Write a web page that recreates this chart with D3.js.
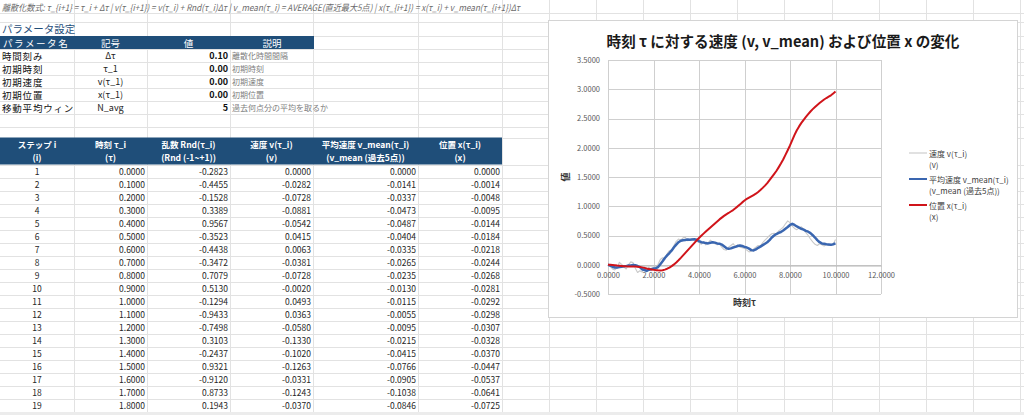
<!DOCTYPE html>
<html>
<head>
<meta charset="utf-8">
<title>時刻 τ に対する速度および位置の変化</title>
<script src="https://d3js.org/d3.v7.min.js"></script>
<style>
  body { margin: 0; background: #fff; }
  svg text { font-family: "Noto Sans CJK JP", "Noto Sans", sans-serif; }
</style>
</head>
<body>
<svg id="sheet" width="1024" height="415"></svg>
<script>
// ---- data ----
const formulaText = "離散化数式: τ_{i+1} = τ_i + Δτ | v(τ_{i+1}) = v(τ_i) + Rnd(τ_i)Δτ | v_mean(τ_i) = AVERAGE(直近最大5点) | x(τ_{i+1}) = x(τ_i) + v_mean(τ_{i+1})Δτ";

const paramHeaders = ["パラメータ名", "記号", "値", "説明"];
const paramNames = ["時間刻み", "初期時刻", "初期速度", "初期位置", "移動平均ウィン"];
const paramSymbols = ["Δτ", "τ_1", "v(τ_1)", "x(τ_1)", "N_avg"];
const paramValues = [0.10, 0.00, 0.00, 0.00, 5];
const paramDescs = ["離散化時間間隔", "初期時刻", "初期速度", "初期位置", "過去何点分の平均を取るか"];

const tableHeaders = [
  ["ステップ i", "(i)"],
  ["時刻 τ_i", "(τ)"],
  ["乱数 Rnd(τ_i)", "(Rnd (-1~+1))"],
  ["速度 v(τ_i)", "(v)"],
  ["平均速度 v_mean(τ_i)", "(v_mean (過去5点))"],
  ["位置 x(τ_i)", "(x)"]
];

const steps = [1, 2, 3, 4, 5, 6, 7, 8, 9, 10, 11, 12, 13, 14, 15, 16, 17, 18, 19];
const rnd = [-0.2823, -0.4455, -0.1528, 0.3389, 0.9567, -0.3523, -0.4438, -0.3472, 0.7079, 0.5130,
  -0.1294, -0.9433, -0.7498, 0.3103, -0.2437, 0.9321, -0.9120, 0.8733, 0.1943];

const tau = [0.0, 0.1, 0.2, 0.3, 0.4, 0.5, 0.6, 0.7, 0.8, 0.9,
  1.0, 1.1, 1.2, 1.3, 1.4, 1.5, 1.6, 1.7, 1.8, 1.9,
  2.0, 2.1, 2.2, 2.3, 2.4, 2.5, 2.6, 2.7, 2.8, 2.9,
  3.0, 3.1, 3.2, 3.3, 3.4, 3.5, 3.6, 3.7, 3.8, 3.9,
  4.0, 4.1, 4.2, 4.3, 4.4, 4.5, 4.6, 4.7, 4.8, 4.9,
  5.0, 5.1, 5.2, 5.3, 5.4, 5.5, 5.6, 5.7, 5.8, 5.9,
  6.0, 6.1, 6.2, 6.3, 6.4, 6.5, 6.6, 6.7, 6.8, 6.9,
  7.0, 7.1, 7.2, 7.3, 7.4, 7.5, 7.6, 7.7, 7.8, 7.9,
  8.0, 8.1, 8.2, 8.3, 8.4, 8.5, 8.6, 8.7, 8.8, 8.9,
  9.0, 9.1, 9.2, 9.3, 9.4, 9.5, 9.6, 9.7, 9.8, 9.9, 10.0];

const vel = [0.0000, -0.0282, -0.0728, -0.0881, -0.0542, 0.0415, 0.0063, -0.0381, -0.0728, -0.0020,
  0.0493, 0.0363, -0.0580, -0.1330, -0.1020, -0.1263, -0.0331, -0.1243, -0.0370, -0.100,
  -0.060, -0.080, 0.010, 0.090, 0.120, 0.100, 0.190, 0.240, 0.230, 0.330,
  0.400, 0.440, 0.420, 0.460, 0.470, 0.410, 0.420, 0.450, 0.440, 0.400,
  0.380, 0.350, 0.390, 0.340, 0.380, 0.420, 0.390, 0.360, 0.340, 0.360,
  0.300, 0.260, 0.250, 0.300, 0.330, 0.360, 0.310, 0.340, 0.300, 0.290,
  0.280, 0.250, 0.220, 0.230, 0.270, 0.300, 0.330, 0.320, 0.380, 0.420,
  0.460, 0.500, 0.530, 0.540, 0.520, 0.580, 0.610, 0.640, 0.700, 0.750,
  0.720, 0.660, 0.620, 0.600, 0.630, 0.650, 0.600, 0.550, 0.500, 0.440,
  0.390, 0.350, 0.330, 0.360, 0.340, 0.320, 0.350, 0.330, 0.340, 0.350, 0.430];

const vMean = [0.0000, -0.0141, -0.0337, -0.0473, -0.0487, -0.0404, -0.0335, -0.0265, -0.0235, -0.0130,
  -0.0115, -0.0055, -0.0095, -0.0215, -0.0415, -0.0766, -0.0905, -0.1038, -0.0846, -0.075,
  -0.065, -0.058, -0.040, 0.010, 0.060, 0.115, 0.160, 0.200, 0.245, 0.300,
  0.345, 0.385, 0.410, 0.420, 0.425, 0.430, 0.428, 0.432, 0.435, 0.428,
  0.405, 0.385, 0.380, 0.370, 0.365, 0.375, 0.385, 0.378, 0.365, 0.360,
  0.345, 0.315, 0.285, 0.272, 0.280, 0.295, 0.305, 0.320, 0.330, 0.320,
  0.305, 0.295, 0.275, 0.250, 0.245, 0.262, 0.290, 0.310, 0.335, 0.360,
  0.385, 0.420, 0.465, 0.500, 0.525, 0.545, 0.560, 0.585, 0.615, 0.645,
  0.680, 0.700, 0.680, 0.655, 0.635, 0.615, 0.600, 0.580, 0.565, 0.540,
  0.505, 0.465, 0.420, 0.385, 0.365, 0.358, 0.350, 0.345, 0.340, 0.350, 0.365];

const pos = [0.0000, -0.0014, -0.0048, -0.0095, -0.0144, -0.0184, -0.0218, -0.0244, -0.0268, -0.0281,
  -0.0292, -0.0298, -0.0307, -0.0328, -0.0370, -0.0447, -0.0537, -0.0641, -0.0725, -0.080,
  -0.087, -0.092, -0.096, -0.097, -0.093, -0.083, -0.068, -0.048, -0.024, 0.006,
  0.040, 0.078, 0.118, 0.160, 0.203, 0.246, 0.288, 0.332, 0.375, 0.418,
  0.458, 0.495, 0.532, 0.568, 0.603, 0.638, 0.672, 0.706, 0.740, 0.775,
  0.805, 0.835, 0.862, 0.885, 0.910, 0.935, 0.966, 0.998, 1.032, 1.066,
  1.098, 1.125, 1.148, 1.170, 1.192, 1.215, 1.245, 1.278, 1.314, 1.352,
  1.395, 1.445, 1.497, 1.550, 1.603, 1.665, 1.730, 1.800, 1.878, 1.958,
  2.040, 2.130, 2.220, 2.298, 2.365, 2.425, 2.478, 2.528, 2.575, 2.620,
  2.660, 2.697, 2.732, 2.764, 2.795, 2.825, 2.850, 2.873, 2.897, 2.928, 2.960];

const chartTitle = "時刻 τ に対する速度 (v, v_mean) および位置 x の変化";
const xTicks = [0, 2, 4, 6, 8, 10, 12];
const yTicks = [-0.5, 0, 0.5, 1.0, 1.5, 2.0, 2.5, 3.0, 3.5];
const xTitle = "時刻τ";
const yTitle = "値";
const legendLabels = [
  ["速度 v(τ_i)", "(v)"],
  ["平均速度 v_mean(τ_i)", "(v_mean (過去5点))"],
  ["位置 x(τ_i)", "(x)"]
];

// ---- layout ----
const svg = d3.select("#sheet");
const headBlue = "#1f4e79";
const fmt4 = d => d.toFixed(4);
const crisp = v => Math.round(v) + 0.5;

// sheet gridlines
const colLines = [74, 147, 230, 313, 418, 502, 549, 596, 643, 690, 737, 784, 832, 879, 926, 973, 1020];
const rowLines = [12.5, 21.5, 36, 49, 62, 75, 88, 101, 114, 126.5, 137.5]
  .concat(d3.range(20).map(k => 164.5 + 13 * k));

const grid = svg.append("g").attr("stroke", "#e2e2e2").attr("stroke-width", 1);
grid.selectAll(".vl").data(colLines).join("line")
  .attr("x1", d => crisp(d)).attr("x2", d => crisp(d))
  .attr("y1", 0).attr("y2", 412);
grid.selectAll(".hl").data(rowLines).join("line")
  .attr("x1", 0).attr("x2", 1024)
  .attr("y1", d => crisp(d)).attr("y2", d => crisp(d));
svg.append("rect").attr("x", 0).attr("y", 412).attr("width", 1024).attr("height", 3).attr("fill", "#ececec");

// formula line
svg.append("text")
  .attr("x", 2).attr("y", 7)
  .attr("dominant-baseline", "central")
  .attr("font-size", 9).attr("font-style", "italic").attr("fill", "#6b6b6b")
  .attr("textLength", 518).attr("lengthAdjust", "spacingAndGlyphs")
  .text(formulaText);

// parameter block
svg.append("text")
  .attr("x", 2).attr("y", 28.5).attr("dominant-baseline", "central")
  .attr("font-size", 10.5).attr("fill", headBlue)
  .text("パラメータ設定");

svg.append("rect").attr("x", 0).attr("y", 36).attr("width", 314).attr("height", 13).attr("fill", headBlue);
const paramHeadX = [3, 110.5, 188.5, 272];
svg.selectAll(".ph").data(paramHeaders).join("text")
  .attr("x", (d, i) => paramHeadX[i]).attr("y", 42.5)
  .attr("dominant-baseline", "central")
  .attr("text-anchor", (d, i) => i === 0 ? "start" : "middle")
  .attr("font-size", 9.5).attr("fill", "#fff").attr("letter-spacing", (d, i) => i === 0 ? 1.6 : 0)
  .text(d => d);

const paramRowY = i => 55.5 + 13 * i;
svg.selectAll(".pn").data(paramNames).join("text")
  .attr("x", 2).attr("y", (d, i) => paramRowY(i)).attr("dominant-baseline", "central")
  .attr("font-size", 9.5).attr("letter-spacing", 0.8).attr("fill", "#111").text(d => d);
svg.selectAll(".ps").data(paramSymbols).join("text")
  .attr("x", 110.5).attr("y", (d, i) => paramRowY(i)).attr("dominant-baseline", "central")
  .attr("text-anchor", "middle").attr("font-size", 9).attr("fill", "#222").text(d => d);
svg.selectAll(".pv").data(paramValues).join("text")
  .attr("x", 228).attr("y", (d, i) => paramRowY(i)).attr("dominant-baseline", "central")
  .attr("text-anchor", "end").attr("font-size", 9).attr("font-weight", "bold").attr("fill", "#111")
  .text((d, i) => i === paramValues.length - 1 ? String(d) : d.toFixed(2));
svg.selectAll(".pd").data(paramDescs).join("text")
  .attr("x", 232).attr("y", (d, i) => paramRowY(i)).attr("dominant-baseline", "central")
  .attr("font-size", 8).attr("fill", "#808080").text(d => d);

// data table
const colEdges = [0, 74, 147, 230, 313, 418, 502];
svg.append("rect").attr("x", 0).attr("y", 137.5).attr("width", 502).attr("height", 27).attr("fill", headBlue);
tableHeaders.forEach((pair, c) => {
  const cx = (colEdges[c] + colEdges[c + 1]) / 2;
  pair.forEach((t, r) => {
    svg.append("text")
      .attr("x", cx).attr("y", 144 + 13 * r).attr("dominant-baseline", "central")
      .attr("text-anchor", "middle").attr("font-size", 8.5).attr("font-weight", "bold")
      .attr("fill", "#fff").text(t);
  });
});

const rows = steps.map((s, k) => [s, tau[k], rnd[k], vel[k], vMean[k], pos[k]]);
const rowG = svg.selectAll(".row").data(rows).join("g")
  .attr("transform", (d, k) => `translate(0,${171 + 13 * k})`);
rowG.selectAll("text").data(d => d).join("text")
  .attr("x", (d, c) => c === 0 ? 37 : colEdges[c + 1] - 2)
  .attr("text-anchor", (d, c) => c === 0 ? "middle" : "end")
  .attr("dominant-baseline", "central")
  .attr("font-size", 8.5).attr("fill", "#262626")
  .text((d, c) => c === 0 ? String(d) : fmt4(d));

// ---- chart ----
svg.append("rect").attr("x", 548.5).attr("y", 20.5).attr("width", 469).attr("height", 297)
  .attr("fill", "#fff").attr("stroke", "#d4d4d4");

const plot = { left: 608, right: 881, top: 60, bottom: 294 };
const xs = d3.scaleLinear().domain([0, 12]).range([plot.left, plot.right]);
const ys = d3.scaleLinear().domain([-0.5, 3.5]).range([plot.bottom, plot.top]);

const title = svg.append("text")
  .attr("x", 783).attr("y", 40).attr("dominant-baseline", "central")
  .attr("text-anchor", "middle").attr("font-size", 15).attr("font-weight", "bold").attr("fill", "#1a1a1a")
  .text(chartTitle);
const tl = title.node().getComputedTextLength();
title.attr("font-size", 15 * 353 / tl);

const cg = svg.append("g").attr("stroke", "#cfcfcf").attr("stroke-width", 1);
cg.selectAll(".gx").data(xTicks).join("line")
  .attr("x1", d => crisp(xs(d))).attr("x2", d => crisp(xs(d)))
  .attr("y1", plot.top).attr("y2", plot.bottom);
cg.selectAll(".gy").data(yTicks).join("line")
  .attr("x1", plot.left).attr("x2", plot.right)
  .attr("y1", d => crisp(ys(d))).attr("y2", d => crisp(ys(d)));

const yAxis = svg.append("g")
  .attr("transform", `translate(${plot.left},0)`)
  .call(d3.axisLeft(ys).tickValues(yTicks).tickFormat(fmt4).tickSize(0).tickPadding(8));
yAxis.select(".domain").remove();

const xAxis = svg.append("g")
  .attr("transform", `translate(0,${crisp(ys(0))})`)
  .call(d3.axisBottom(xs).tickValues(xTicks).tickFormat(fmt4).tickSize(0).tickPadding(7));
xAxis.select(".domain").attr("stroke", "#b5b5b5");

svg.selectAll(".tick text")
  .attr("font-size", 7.5).attr("fill", "#595959")
  .attr("font-family", "\"Noto Sans CJK JP\", sans-serif");

svg.append("text").attr("x", (plot.left + plot.right) / 2).attr("y", 302)
  .attr("dominant-baseline", "central").attr("text-anchor", "middle")
  .attr("font-size", 9).attr("font-weight", "bold").attr("fill", "#333").text(xTitle);
svg.append("text").attr("transform", "translate(565,177) rotate(-90)")
  .attr("dominant-baseline", "central").attr("text-anchor", "middle")
  .attr("font-size", 9).attr("font-weight", "bold").attr("fill", "#333").text(yTitle);

const series = [
  { values: vel, color: "#c9c9c9", width: 1.1 },
  { values: vMean, color: "#3a66b0", width: 2.5 },
  { values: pos, color: "#d0141a", width: 2 }
];
const line = d3.line().x((d, i) => xs(tau[i])).y(d => ys(d));
svg.selectAll(".series").data(series).join("path")
  .attr("fill", "none")
  .attr("stroke", d => d.color).attr("stroke-width", d => d.width)
  .attr("stroke-linejoin", "round")
  .attr("d", d => line(d.values));

// legend
const lg = svg.selectAll(".lg").data(legendLabels).join("g")
  .attr("transform", (d, i) => `translate(909,${153 + 26 * i})`);
lg.append("line").attr("x1", 0).attr("x2", 18)
  .attr("stroke", (d, i) => series[i].color).attr("stroke-width", (d, i) => Math.min(series[i].width, 2));
lg.selectAll("text").data(d => d).join("text")
  .attr("x", 20).attr("y", (d, r) => r * 11.5).attr("dominant-baseline", "central")
  .attr("font-size", 8).attr("fill", "#404040").text(d => d);
</script>
</body>
</html>
